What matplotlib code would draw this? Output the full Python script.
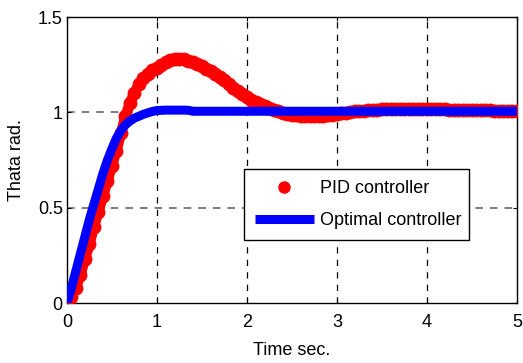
import matplotlib
matplotlib.use("Agg")
import matplotlib.pyplot as plt

plt.rcParams['font.family'] = ['Liberation Sans', 'DejaVu Sans']
plt.rcParams['lines.scale_dashes'] = False

# PID controller response (sampled every 0.05 s)
t_pid = [i * 0.05 for i in range(101)]
y_pid = [0.00, 0.03, 0.08, 0.15, 0.23, 0.31, 0.40, 0.48, 0.56, 0.64,
         0.72, 0.80, 0.89, 0.98, 1.05, 1.10, 1.15, 1.18, 1.20, 1.22,
         1.235, 1.25, 1.265, 1.275, 1.28, 1.28, 1.278, 1.272, 1.265, 1.255,
         1.245, 1.23, 1.215, 1.20, 1.185, 1.17, 1.15, 1.13, 1.11, 1.095,
         1.08, 1.065, 1.055, 1.045, 1.035, 1.025, 1.015, 1.005, 0.998, 0.993,
         0.988, 0.984, 0.982, 0.980, 0.979, 0.979, 0.980, 0.982, 0.985, 0.988,
         0.991, 0.995, 0.999, 1.002, 1.005, 1.008, 1.010, 1.012, 1.014, 1.015,
         1.016, 1.017, 1.018, 1.019, 1.020, 1.020, 1.020, 1.020, 1.020, 1.020,
         1.020, 1.019, 1.018, 1.017, 1.016, 1.015, 1.014, 1.013, 1.013, 1.012,
         1.012, 1.012, 1.011, 1.011, 1.011, 1.010, 1.010, 1.010, 1.010, 1.010,
         1.010]

# Optimal controller response
t_opt = [0.00, 0.05, 0.10, 0.15, 0.20, 0.25, 0.30, 0.35, 0.40, 0.45,
         0.50, 0.55, 0.60, 0.65, 0.70, 0.75, 0.80, 0.85, 0.90, 0.95,
         1.00, 1.10, 1.20, 1.30, 1.35, 1.40, 2.00, 3.00, 4.00, 5.00]
y_opt = [0.00, 0.08, 0.17, 0.26, 0.35, 0.44, 0.52, 0.60, 0.68, 0.75,
         0.81, 0.865, 0.905, 0.935, 0.955, 0.97, 0.98, 0.99, 0.998, 1.005,
         1.010, 1.012, 1.012, 1.012, 1.011, 1.006, 1.006, 1.006, 1.006, 1.006]

x_ticks = [0, 1, 2, 3, 4, 5]
y_ticks = [0, 0.5, 1, 1.5]
y_ticklabels = ['0', '0.5', '1', '1.5']

fig = plt.figure(figsize=(5.23, 3.63), dpi=100)
ax = fig.add_axes([0.128, 0.165, 0.8605, 0.788])

ax.plot(t_pid, y_pid, linestyle='-', linewidth=7.5, color='#ff0000',
        solid_capstyle='round', zorder=3)
ax.plot(t_pid, y_pid, linestyle='none', marker='o', markersize=10,
        color='#ff0000', markeredgewidth=0, label='PID controller', zorder=3)
ax.plot(t_opt, y_opt, color='#0000ff', linewidth=6.5, solid_capstyle='butt',
        label='Optimal controller', zorder=4)

ax.set_xlim(0, 5)
ax.set_ylim(0, 1.5)
ax.set_xticks(x_ticks)
ax.set_yticks(y_ticks)
ax.set_yticklabels(y_ticklabels)
ax.tick_params(direction='in', length=3, labelsize=13, width=0.8, pad=3,
               top=True, right=True)
ax.tick_params(axis='x', pad=8)

for x in x_ticks[1:-1]:
    ax.axvline(x, color='black', linewidth=0.9, dashes=(4.5, 4.5), zorder=1)
for y in [0.5, 1.0]:
    ax.axhline(y, color='#666666', linewidth=1.2, dashes=(5.5, 5), zorder=1)

for s in ax.spines.values():
    s.set_linewidth(1.0)
    s.set_color('black')

ax.set_xlabel('Time sec.', fontsize=13, labelpad=8)
ax.set_ylabel('Thata rad.', fontsize=13, labelpad=9)

leg = ax.legend(loc='lower left', bbox_to_anchor=(0.393, 0.22, 0.5, 0.252),
                mode='expand', fontsize=13, fancybox=False, framealpha=1,
                edgecolor='black', handlelength=3.3, borderpad=0.6,
                labelspacing=0.85, handletextpad=0.3, borderaxespad=0,
                markerscale=0.9)
leg.get_frame().set_linewidth(1.0)
leg.set_zorder(5)

fig.savefig('out.png', dpi=100)
